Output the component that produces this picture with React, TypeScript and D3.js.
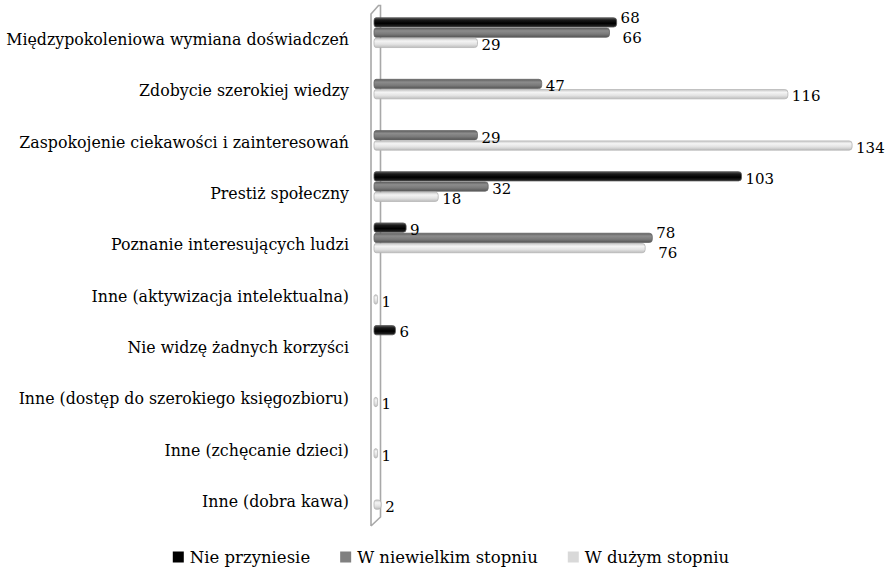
import React, { useEffect, useRef } from "react";
import * as d3 from "d3";

const categories = [
  "Międzypokoleniowa wymiana doświadczeń",
  "Zdobycie szerokiej wiedzy",
  "Zaspokojenie ciekawości i zainteresowań",
  "Prestiż społeczny",
  "Poznanie interesujących ludzi",
  "Inne (aktywizacja intelektualna)",
  "Nie widzę żadnych korzyści",
  "Inne (dostęp do szerokiego księgozbioru)",
  "Inne (zchęcanie dzieci)",
  "Inne (dobra kawa)",
];

const seriesNames = ["Nie przyniesie", "W niewielkim stopniu", "W dużym stopniu"];

// null = no bar
const nieprzyniesie: (number | null)[] = [68, null, null, 103, 9, null, 6, null, null, null];
const wNiewielkim: (number | null)[] = [66, 47, 29, 32, 78, null, null, null, null, null];
const wDuzym: (number | null)[] = [29, 116, 134, 18, 76, 1, null, 1, 1, 2];

const seriesValues = [nieprzyniesie, wNiewielkim, wDuzym];

const W = 891;
const H = 573;
const FONT = "DejaVu Serif, Liberation Serif, serif";

export default function App() {
  const ref = useRef<SVGSVGElement | null>(null);

  useEffect(() => {
    const svg = d3.select(ref.current);
    svg.selectAll("*").remove();

    const defs = svg.append("defs");
    const grads = [
      { id: "g0", stops: [["0%", "#5a5a5a"], ["25%", "#1a1a1a"], ["60%", "#000"], ["100%", "#2a2a2a"]], stroke: "#555" },
      { id: "g1", stops: [["0%", "#5e5e5e"], ["30%", "#8c8c8c"], ["65%", "#7a7a7a"], ["100%", "#555"]], stroke: "#666" },
      { id: "g2", stops: [["0%", "#c8c8c8"], ["30%", "#f4f4f4"], ["65%", "#e2e2e2"], ["100%", "#bdbdbd"]], stroke: "#b5b5b5" },
    ];
    grads.forEach((g) => {
      const lg = defs.append("linearGradient").attr("id", g.id).attr("x1", 0).attr("y1", 0).attr("x2", 0).attr("y2", 1);
      g.stops.forEach(([o, c]) => lg.append("stop").attr("offset", o).attr("stop-color", c));
    });

    const x = d3.scaleLinear().domain([0, 140]).range([374, 873.5]);
    const y = d3.scaleBand<string>().domain(categories).range([7, 520]).paddingInner(0.4).paddingOuter(0.2);
    const ys = d3.scaleBand<number>().domain([0, 1, 2]).range([0, y.bandwidth()]).padding(0);

    // wall
    const wall = svg.append("g").attr("fill", "none").attr("stroke", "#a8a8a8").attr("stroke-width", 1.6);
    wall.append("path").attr("d", `M371,526 L371,14 L378.5,5.5 L380.5,5.5 L380.5,517 L371,526`);

    // bars
    const barG = svg.append("g");
    seriesValues.forEach((vals, si) => {
      vals.forEach((v, ci) => {
        if (v == null) return;
        const y0 = (y(categories[ci]) as number) + (ys(si) as number);
        const h = ys.bandwidth();
        const x1 = x(v);
        const x0 = x(0);
        const r = Math.min(3, (x1 - x0) / 2);
        barG
          .append("path")
          .attr(
            "d",
            `M${x0 + 2},${y0 + 0.5} L${x1 - r},${y0 + 0.5} Q${x1},${y0 + 0.5} ${x1},${y0 + r + 0.5} L${x1},${y0 + h - r - 0.5} Q${x1},${y0 + h - 0.5} ${x1 - r},${y0 + h - 0.5} L${x0 + 2},${y0 + h - 0.5} Q${x0},${y0 + h - 0.5} ${x0},${y0 + h - r - 0.5} L${x0},${y0 + r + 0.5} Q${x0},${y0 + 0.5} ${x0 + 2},${y0 + 0.5} Z`
          )
          .attr("fill", `url(#g${si})`)
          .attr("stroke", grads[si].stroke)
          .attr("stroke-width", 0.8);
      });
    });

    // value labels with simple collision avoidance
    const lblG = svg.append("g").attr("font-family", FONT).attr("font-size", 15).attr("fill", "#000");
    categories.forEach((c, ci) => {
      const items: { si: number; v: number; xe: number; yc: number; dy: number; dx: number }[] = [];
      seriesValues.forEach((vals, si) => {
        const v = vals[ci];
        if (v == null) return;
        const yc = (y(c) as number) + (ys(si) as number) + ys.bandwidth() / 2;
        items.push({ si, v, xe: x(v), yc, dy: 2, dx: 4 });
      });
      for (let i = 0; i < items.length - 1; i++) {
        const a = items[i], b = items[i + 1];
        if (b.si - a.si === 1 && Math.abs(a.xe - b.xe) < 20) {
          a.dy -= 7;
          b.dy += 3;
          b.dx = Math.max(a.xe, b.xe) - b.xe + 6;
        }
      }
      items.forEach((it) => {
        lblG
          .append("text")
          .attr("x", it.xe + it.dx)
          .attr("y", it.yc + it.dy)
          .attr("dy", "0.35em")
          .text(String(it.v));
      });
    });

    // category labels
    const catG = svg.append("g").attr("font-family", FONT).attr("font-size", 15.8).attr("fill", "#000");
    categories.forEach((c) => {
      const t = catG
        .append("text")
        .attr("x", 349)
        .attr("y", (y(c) as number) + y.bandwidth() / 2 + 7)
        .attr("dy", "0.35em")
        .attr("text-anchor", "end")
        .text(c);
      const bb = (t.node() as SVGTextElement).getBBox();
      if (bb.x < 3) t.attr("x", 349 + (3 - bb.x));
    });

    // legend (measured, centred)
    const colors = ["#000000", "#808080", "#d9d9d9"];
    const sq = 11;
    const gapText = 6;
    const gapItem = 30;
    const lg = svg.append("g").attr("font-family", FONT).attr("font-size", 16.5);
    const texts = seriesNames.map((n) => lg.append("text").attr("y", 557).attr("dy", "0.35em").text(n));
    const widths = texts.map((t) => (t.node() as SVGTextElement).getComputedTextLength());
    const total = d3.sum(widths) + seriesNames.length * (sq + gapText) + (seriesNames.length - 1) * gapItem;
    let cx = 451 - total / 2;
    seriesNames.forEach((n, i) => {
      lg.append("rect").attr("x", cx).attr("y", 551.5).attr("width", sq).attr("height", sq).attr("fill", colors[i]);
      texts[i].attr("x", cx + sq + gapText);
      cx += sq + gapText + widths[i] + gapItem;
    });
  }, []);

  return (
    <svg ref={ref} width={W} height={H} style={{ position: "absolute", left: 0, top: 0, background: "#fff" }} />
  );
}
